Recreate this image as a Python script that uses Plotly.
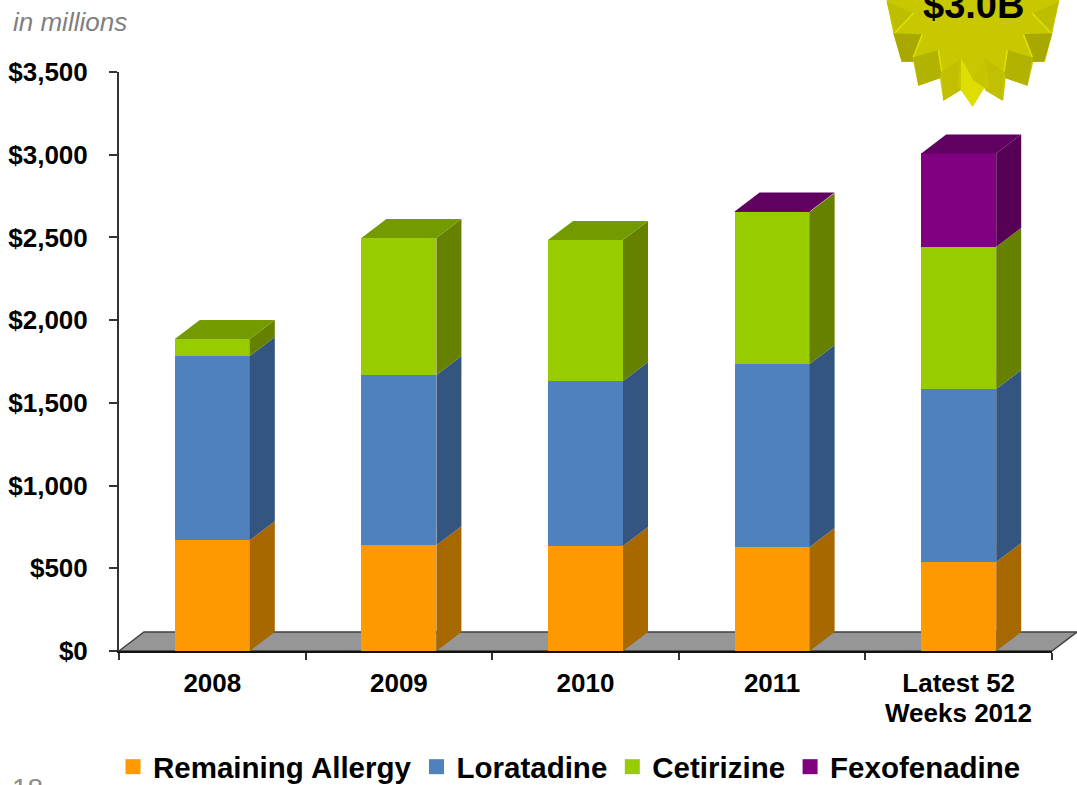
import plotly.graph_objects as go

# Chart data, in millions of dollars
years = ["2008", "2009", "2010", "2011", "Latest 52"]
last_label_second_line = "Weeks 2012"
remaining_allergy = [670, 640, 635, 629, 538]
loratadine = [1113, 1029, 997, 1106, 1046]
cetirizine = [103, 828, 853, 919, 859]
fexofenadine = [0, 0, 0, 3, 565]
y_ticks = [0, 500, 1000, 1500, 2000, 2500, 3000, 3500]
y_labels = ["$0", "$500", "$1,000", "$1,500", "$2,000", "$2,500", "$3,000", "$3,500"]

series = [
    ("Remaining Allergy", remaining_allergy, "#FF9900", "#A86800", "#A86800"),
    ("Loratadine", loratadine, "#4F81BD", "#34557F", "#34557F"),
    ("Cetirizine", cetirizine, "#99CC00", "#668000", "#739B00"),
    ("Fexofenadine", fexofenadine, "#800080", "#560056", "#600060"),
]

W, H = 1077, 785
LEFT, RIGHT, TOP, BOTTOM = 119, 1052, 72, 651
PLOT_W, PLOT_H = RIGHT - LEFT, BOTTOM - TOP
BAR_WIDTH = 0.402
DEPTH_X = 25 / (PLOT_W / 5)      # depth of the extrusion, category units
DEPTH_Y = 19 / (PLOT_H / 3500)   # depth of the extrusion, dollars
FONT = "Liberation Sans"


def px(x):
    return (x - LEFT) / PLOT_W


def py(y):
    return (BOTTOM - y) / PLOT_H


def polygon(points, fill, line="rgba(0,0,0,0)", width=0, layer="above"):
    path = "M" + "L".join(f"{px(x):.5f},{py(y):.5f}" for x, y in points) + "Z"
    return dict(type="path", xref="paper", yref="paper", path=path, fillcolor=fill,
                line=dict(color=line, width=width), layer=layer)


fig = go.Figure()

# Front faces of the stacked columns
for name, values, front, _, _ in series:
    fig.add_trace(go.Bar(x=list(range(len(years))), y=values, width=BAR_WIDTH, name=name,
                         marker=dict(color=front, line=dict(width=0)), showlegend=False))

# Side and top faces, derived from the same stacked values
base = [0] * len(years)
for s, (name, values, front, side, top) in enumerate(series):
    for i, v in enumerate(values):
        if v <= 0:
            continue
        low, high = base[i], base[i] + v
        edge = i + BAR_WIDTH / 2
        fig.add_trace(go.Scatter(
            x=[edge, edge + DEPTH_X, edge + DEPTH_X, edge, edge],
            y=[low, low + DEPTH_Y, high + DEPTH_Y, high, low],
            mode="lines", fill="toself", fillcolor=side, line=dict(width=0),
            hoverinfo="skip", showlegend=False, cliponaxis=False))
        is_top = all(series[k][1][i] <= 0 for k in range(s + 1, len(series)))
        if is_top:
            fig.add_trace(go.Scatter(
                x=[edge - BAR_WIDTH, edge, edge + DEPTH_X, edge - BAR_WIDTH + DEPTH_X, edge - BAR_WIDTH],
                y=[high, high, high + DEPTH_Y, high + DEPTH_Y, high],
                mode="lines", fill="toself", fillcolor=top, line=dict(width=0),
                hoverinfo="skip", showlegend=False, cliponaxis=False))
        base[i] = high

# Legend entries with square swatches
for name, values, front, _, _ in series:
    fig.add_trace(go.Scatter(x=[None], y=[None], mode="markers", name=name,
                             marker=dict(symbol="square", size=15, color=front)))

shapes = [polygon([(119, 651), (144, 632), (1077, 632), (1052, 651)], "#969696",
                  line="#404040", width=1.5, layer="below")]


# Starburst callout in the top right corner, clipped by the page edge
def burst(x, y):
    return (860 + x / 3, y / 3)


def mirror(points):
    return [(677 - x, y) for x, y in points]


outline = [(80, -40), (80, 5), (100, 100), (125, 185), (160, 185), (175, 257), (240, 235), (250, 302),
           (303, 270), (338, 320), (372, 265), (430, 302), (437, 235), (503, 257), (520, 185), (555, 185),
           (577, 100), (597, 5), (597, -40)]
shapes.append(polygon([burst(*p) for p in outline], "#C8C800"))
facets = [
    ([(80, 5), (160, 40), (105, 98)], "#BEBE00"),
    ([(100, 100), (187, 103), (160, 172), (160, 185), (125, 185)], "#A8A800"),
    ([(160, 172), (235, 150), (245, 215), (240, 235), (175, 257)], "#B2B200"),
    ([(245, 215), (303, 175), (290, 255), (303, 270), (250, 302)], "#C0C000"),
]
for points, colour in facets:
    shapes.append(polygon([burst(*p) for p in points], colour))
    shapes.append(polygon([burst(*p) for p in mirror(points)], colour))
shapes.append(polygon([burst(*p) for p in [(303, 175), (340, 240), (372, 262), (338, 320), (303, 270)]], "#DEDE00"))
shapes.append(polygon([burst(*p) for p in [(340, 240), (375, 175), (372, 262)]], "#C4C400"))
for a, b in [((160, 40), (105, 98)), ((187, 103), (160, 172)), ((235, 150), (245, 215))]:
    for p, q in [(a, b), (mirror([a])[0], mirror([b])[0])]:
        shapes.append(dict(type="line", xref="paper", yref="paper",
                           x0=px(burst(*p)[0]), y0=py(burst(*p)[1]),
                           x1=px(burst(*q)[0]), y1=py(burst(*q)[1]),
                           line=dict(color="#E2E200", width=1.5)))

annotations = [
    dict(text="<i>in millions</i>", x=px(11), y=py(22), xref="paper", yref="paper", xanchor="left", yanchor="middle",
         showarrow=False, font=dict(family=FONT, size=26, color="#7F7F7F")),
    dict(text="<b>$3.0B</b>", x=px(973), y=py(5), xref="paper", yref="paper", xanchor="center", yanchor="middle",
         showarrow=False, font=dict(family=FONT, size=38, color="#000000")),
    dict(text="18", x=px(10), y=py(788), xref="paper", yref="paper", xanchor="left", yanchor="middle",
         showarrow=False, font=dict(family=FONT, size=28, color="#8C8C8C")),
    dict(text=f"<b>{last_label_second_line}</b>", x=4, y=py(713), xref="x", yref="paper", xanchor="center",
         yanchor="middle", showarrow=False, font=dict(family=FONT, size=26, color="black")),
]

fig.update_layout(
    width=W, height=H, autosize=False,
    margin=dict(l=LEFT, r=W - RIGHT, t=TOP, b=H - BOTTOM, pad=0, autoexpand=False),
    paper_bgcolor="white", plot_bgcolor="rgba(0,0,0,0)",
    barmode="stack", bargap=0,
    font=dict(family=FONT, color="black"),
    shapes=shapes, annotations=annotations,
    legend=dict(orientation="h", x=px(113), xanchor="left", y=py(767), yanchor="middle",
                font=dict(family=FONT, size=29.5, color="black", weight="bold"),
                bgcolor="rgba(0,0,0,0)", borderwidth=0, traceorder="normal"),
    xaxis=dict(range=[-0.5, 4.5], tickvals=list(range(len(years))), ticktext=years, automargin=False,
               tickfont=dict(family=FONT, size=26, color="black", weight="bold"),
               ticks="", ticklen=0, ticklabelstandoff=8, showgrid=False, zeroline=False,
               showline=True, linecolor="#111111", linewidth=2,
               minor=dict(tickvals=[-0.5, 0.5, 1.5, 2.5, 3.5, 4.5], ticks="outside", ticklen=7,
                          tickwidth=1.5, tickcolor="#333333", showgrid=False)),
    yaxis=dict(range=[0, 3500], tickvals=y_ticks, ticktext=y_labels, automargin=False,
               tickfont=dict(family=FONT, size=26, color="black", weight="bold"),
               ticks="outside", ticklen=8, tickwidth=1.5, tickcolor="#333333", ticklabelstandoff=16,
               showgrid=False, zeroline=False, showline=True, linecolor="#333333", linewidth=2),
)

fig.write_html("out.html", config=dict(displayModeBar=False))
